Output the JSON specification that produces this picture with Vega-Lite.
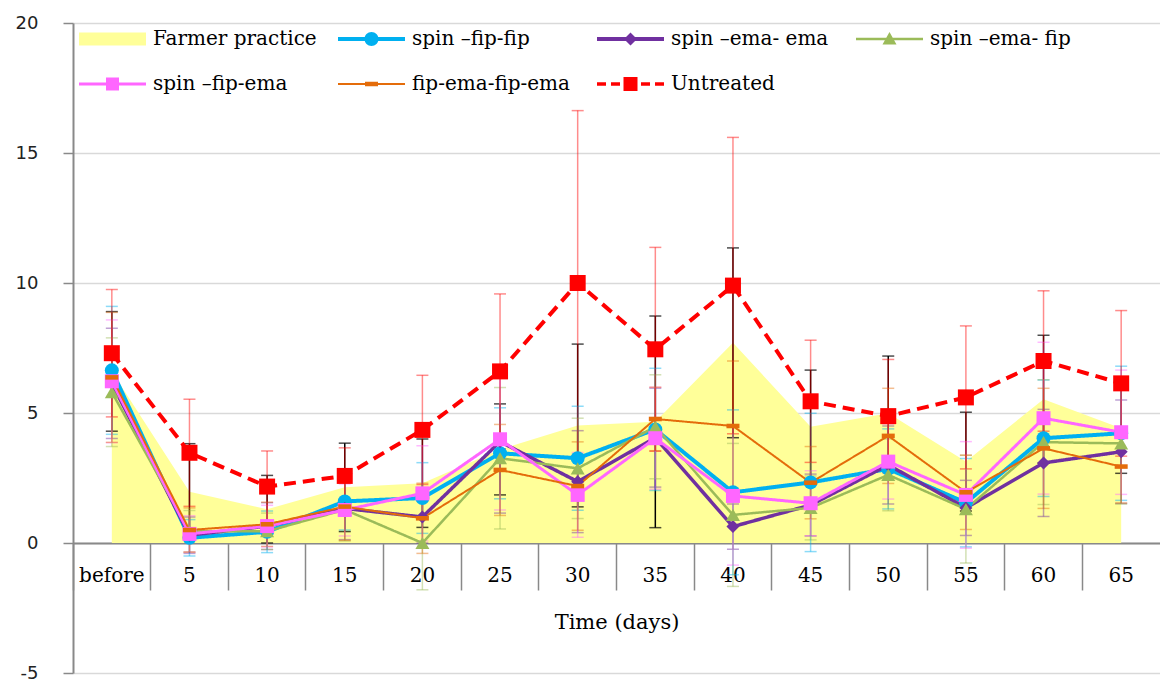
{
  "$schema": "https://vega.github.io/schema/vega-lite/v6.json",
  "width": 1087,
  "height": 650,
  "autosize": {"type": "none"},
  "padding": {"left": 73, "top": 23, "right": 0, "bottom": 9},
  "background": "white",
  "config": {"view": {"stroke": null}},
  "data": {"values": [
    {"t":"before","s":"Farmer practice","v":6.6,"e":2.3},
    {"t":"5","s":"Farmer practice","v":1.97,"e":1.85},
    {"t":"10","s":"Farmer practice","v":1.3,"e":1.3},
    {"t":"15","s":"Farmer practice","v":2.14,"e":1.7},
    {"t":"20","s":"Farmer practice","v":2.3,"e":1.7},
    {"t":"25","s":"Farmer practice","v":3.6,"e":1.75},
    {"t":"30","s":"Farmer practice","v":4.52,"e":3.13},
    {"t":"35","s":"Farmer practice","v":4.66,"e":4.07},
    {"t":"40","s":"Farmer practice","v":7.7,"e":3.65},
    {"t":"45","s":"Farmer practice","v":4.47,"e":2.18},
    {"t":"50","s":"Farmer practice","v":4.99,"e":2.2},
    {"t":"55","s":"Farmer practice","v":3.13,"e":1.9},
    {"t":"60","s":"Farmer practice","v":5.53,"e":2.46},
    {"t":"65","s":"Farmer practice","v":4.41,"e":1.73},

    {"t":"before","s":"spin –fip-fip","v":6.64,"e":2.46},
    {"t":"5","s":"spin –fip-fip","v":0.2,"e":0.7},
    {"t":"10","s":"spin –fip-fip","v":0.43,"e":0.8},
    {"t":"15","s":"spin –fip-fip","v":1.6,"e":1.1},
    {"t":"20","s":"spin –fip-fip","v":1.73,"e":1.36},
    {"t":"25","s":"spin –fip-fip","v":3.45,"e":1.75},
    {"t":"30","s":"spin –fip-fip","v":3.26,"e":2.0},
    {"t":"35","s":"spin –fip-fip","v":4.37,"e":2.35},
    {"t":"40","s":"spin –fip-fip","v":1.95,"e":3.17},
    {"t":"45","s":"spin –fip-fip","v":2.33,"e":2.66},
    {"t":"50","s":"spin –fip-fip","v":2.85,"e":1.54},
    {"t":"55","s":"spin –fip-fip","v":1.55,"e":1.7},
    {"t":"60","s":"spin –fip-fip","v":4.03,"e":2.24},
    {"t":"65","s":"spin –fip-fip","v":4.22,"e":2.58},

    {"t":"before","s":"spin –ema- ema","v":6.14,"e":2.12},
    {"t":"5","s":"spin –ema- ema","v":0.3,"e":0.7},
    {"t":"10","s":"spin –ema- ema","v":0.65,"e":0.9},
    {"t":"15","s":"spin –ema- ema","v":1.33,"e":1.2},
    {"t":"20","s":"spin –ema- ema","v":1.0,"e":1.0},
    {"t":"25","s":"spin –ema- ema","v":3.9,"e":2.75},
    {"t":"30","s":"spin –ema- ema","v":2.36,"e":1.96},
    {"t":"35","s":"spin –ema- ema","v":4.05,"e":1.9},
    {"t":"40","s":"spin –ema- ema","v":0.63,"e":0.87},
    {"t":"45","s":"spin –ema- ema","v":1.46,"e":1.19},
    {"t":"50","s":"spin –ema- ema","v":3.0,"e":1.5},
    {"t":"55","s":"spin –ema- ema","v":1.35,"e":1.06},
    {"t":"60","s":"spin –ema- ema","v":3.08,"e":2.06},
    {"t":"65","s":"spin –ema- ema","v":3.51,"e":1.99},

    {"t":"before","s":"spin –ema- fip","v":5.8,"e":2.09},
    {"t":"5","s":"spin –ema- fip","v":0.45,"e":0.8},
    {"t":"10","s":"spin –ema- fip","v":0.45,"e":0.7},
    {"t":"15","s":"spin –ema- fip","v":1.28,"e":1.2},
    {"t":"20","s":"spin –ema- fip","v":0.0,"e":1.8},
    {"t":"25","s":"spin –ema- fip","v":3.26,"e":2.72},
    {"t":"30","s":"spin –ema- fip","v":2.87,"e":1.93},
    {"t":"35","s":"spin –ema- fip","v":4.47,"e":2.0},
    {"t":"40","s":"spin –ema- fip","v":1.08,"e":2.75},
    {"t":"45","s":"spin –ema- fip","v":1.35,"e":1.23},
    {"t":"50","s":"spin –ema- fip","v":2.62,"e":1.38},
    {"t":"55","s":"spin –ema- fip","v":1.3,"e":2.07},
    {"t":"60","s":"spin –ema- fip","v":3.88,"e":2.4},
    {"t":"65","s":"spin –ema- fip","v":3.83,"e":2.33},

    {"t":"before","s":"spin –fip-ema","v":6.22,"e":2.36},
    {"t":"5","s":"spin –fip-ema","v":0.35,"e":0.7},
    {"t":"10","s":"spin –fip-ema","v":0.65,"e":0.8},
    {"t":"15","s":"spin –fip-ema","v":1.27,"e":1.0},
    {"t":"20","s":"spin –fip-ema","v":1.91,"e":1.83},
    {"t":"25","s":"spin –fip-ema","v":3.99,"e":2.72},
    {"t":"30","s":"spin –fip-ema","v":1.85,"e":1.63},
    {"t":"35","s":"spin –fip-ema","v":4.03,"e":1.96},
    {"t":"40","s":"spin –fip-ema","v":1.81,"e":2.66},
    {"t":"45","s":"spin –fip-ema","v":1.53,"e":1.25},
    {"t":"50","s":"spin –fip-ema","v":3.13,"e":1.44},
    {"t":"55","s":"spin –fip-ema","v":1.85,"e":2.05},
    {"t":"60","s":"spin –fip-ema","v":4.8,"e":2.92},
    {"t":"65","s":"spin –fip-ema","v":4.26,"e":2.39},

    {"t":"before","s":"fip-ema-fip-ema","v":6.37,"e":2.5},
    {"t":"5","s":"fip-ema-fip-ema","v":0.5,"e":0.85},
    {"t":"10","s":"fip-ema-fip-ema","v":0.72,"e":0.85},
    {"t":"15","s":"fip-ema-fip-ema","v":1.4,"e":1.3},
    {"t":"20","s":"fip-ema-fip-ema","v":0.95,"e":1.35},
    {"t":"25","s":"fip-ema-fip-ema","v":2.81,"e":1.75},
    {"t":"30","s":"fip-ema-fip-ema","v":2.19,"e":1.7},
    {"t":"35","s":"fip-ema-fip-ema","v":4.77,"e":1.22},
    {"t":"40","s":"fip-ema-fip-ema","v":4.5,"e":2.5},
    {"t":"45","s":"fip-ema-fip-ema","v":2.32,"e":1.39},
    {"t":"50","s":"fip-ema-fip-ema","v":4.12,"e":1.83},
    {"t":"55","s":"fip-ema-fip-ema","v":1.95,"e":1.43},
    {"t":"60","s":"fip-ema-fip-ema","v":3.64,"e":2.31},
    {"t":"65","s":"fip-ema-fip-ema","v":2.94,"e":1.4},

    {"t":"before","s":"Untreated","v":7.3,"e":2.45},
    {"t":"5","s":"Untreated","v":3.47,"e":2.06},
    {"t":"10","s":"Untreated","v":2.17,"e":1.37},
    {"t":"15","s":"Untreated","v":2.58,"e":1.08},
    {"t":"20","s":"Untreated","v":4.35,"e":2.1},
    {"t":"25","s":"Untreated","v":6.6,"e":2.98},
    {"t":"30","s":"Untreated","v":10.0,"e":6.63},
    {"t":"35","s":"Untreated","v":7.45,"e":3.92},
    {"t":"40","s":"Untreated","v":9.9,"e":5.7},
    {"t":"45","s":"Untreated","v":5.45,"e":2.35},
    {"t":"50","s":"Untreated","v":4.88,"e":2.18},
    {"t":"55","s":"Untreated","v":5.6,"e":2.75},
    {"t":"60","s":"Untreated","v":7.0,"e":2.7},
    {"t":"65","s":"Untreated","v":6.14,"e":2.8}
  ]},
  "encoding": {
    "x": {
      "field": "t", "type": "ordinal",
      "sort": ["before","5","10","15","20","25","30","35","40","45","50","55","60","65"],
      "scale": {"type": "band", "paddingInner": 0, "paddingOuter": 0,
        "domain": ["before","5","10","15","20","25","30","35","40","45","50","55","60","65"]},
      "axis": {
        "title": "Time (days)", "orient": "bottom", "offset": -130,
        "labelAngle": 0, "bandPosition": 0, "grid": false,
        "domainColor": "#898989", "domainWidth": 2,
        "tickColor": "#898989", "tickWidth": 1.5, "tickSize": 47,
        "labelFont": "DejaVu Serif", "labelFontSize": 20, "labelColor": "#000",
        "labelPadding": -25, "labelBaseline": "top",
        "titleFont": "DejaVu Serif", "titleFontSize": 21, "titleFontWeight": "normal",
        "titleColor": "#000", "titlePadding": 21
      }
    }
  },
  "layer": [
    {
      "transform": [{"filter": "datum.s === 'Farmer practice'"}],
      "mark": {"type": "area", "color": "#FFFF99", "interpolate": "linear"},
      "encoding": {
        "y": {"field": "v", "type": "quantitative",
          "scale": {"domain": [-5, 20], "nice": false, "zero": false},
          "axis": {
            "title": null, "values": [-5, 0, 5, 10, 15, 20],
            "labelExpr": "'' + datum.value",
            "grid": true, "gridColor": "#d9d9d9", "gridWidth": 1.5,
            "domainColor": "#898989", "domainWidth": 2,
            "tickColor": "#898989", "tickWidth": 1.5, "tickSize": 10,
            "labelFont": "DejaVu Sans", "labelFontSize": 18, "labelColor": "#222",
            "labelPadding": 25
          }
        }
      }
    },
    {
      "transform": [{"filter": "datum.s === 'Farmer practice'"}],
      "mark": {"type": "errorbar", "ticks": true, "size": 12, "thickness": 1.5, "color": "black"},
      "encoding": {
        "y": {"field": "v", "type": "quantitative"},
        "yError": {"field": "e"}
      }
    },
    {
      "transform": [{"filter": "datum.s !== 'Farmer practice'"}],
      "mark": {"type": "errorbar", "ticks": true, "size": 12, "thickness": 1.5, "opacity": 0.45},
      "encoding": {
        "y": {"field": "v", "type": "quantitative"},
        "yError": {"field": "e"},
        "color": {"field": "s", "type": "nominal"}
      }
    },
    {
      "transform": [{"filter": "datum.s !== 'Farmer practice'"}],
      "mark": {"type": "line", "strokeCap": "butt"},
      "encoding": {
        "y": {"field": "v", "type": "quantitative"},
        "color": {"field": "s", "type": "nominal"},
        "strokeWidth": {"field": "s", "type": "nominal", "legend": null,
          "scale": {"type": "ordinal", "domain": ["spin –fip-fip","spin –ema- ema","spin –ema- fip","spin –fip-ema","fip-ema-fip-ema","Untreated"],
                    "range": [4, 3.5, 2.5, 3, 2, 4]}},
        "strokeDash": {"field": "s", "type": "nominal", "legend": null,
          "scale": {"domain": ["spin –fip-fip","spin –ema- ema","spin –ema- fip","spin –fip-ema","fip-ema-fip-ema","Untreated"],
                    "range": [[1, 0], [1, 0], [1, 0], [1, 0], [1, 0], [12, 7]]}}
      }
    },
    {
      "transform": [{"filter": "datum.s !== 'Farmer practice'"}],
      "mark": {"type": "point", "filled": true, "opacity": 1},
      "encoding": {
        "y": {"field": "v", "type": "quantitative"},
        "shape": {"field": "s", "type": "nominal", "legend": null,
          "scale": {"domain": ["spin –fip-fip","spin –ema- ema","spin –ema- fip","spin –fip-ema","fip-ema-fip-ema","Untreated"],
                    "range": ["circle", "diamond", "triangle-up", "square", "M-1,-0.35H1V0.35H-1Z", "square"]}},
        "size": {"field": "s", "type": "nominal", "legend": null,
          "scale": {"type": "ordinal", "domain": ["spin –fip-fip","spin –ema- ema","spin –ema- fip","spin –fip-ema","fip-ema-fip-ema","Untreated"],
                    "range": [196, 169, 196, 196, 169, 256]}},
        "color": {
          "field": "s", "type": "nominal",
          "scale": {
            "domain": ["Farmer practice","spin –fip-fip","spin –ema- ema","spin –ema- fip","spin –fip-ema","fip-ema-fip-ema","Untreated"],
            "range": ["#FFFF99","#00B0F0","#7030A0","#9BBB59","#FF66FF","#E46C0A","#FF0000"]
          },
          "legend": {
            "title": null, "orient": "top-left", "offset": 6, "padding": 0,
            "direction": "horizontal", "gridAlign": "all",
            "columns": 4, "columnPadding": 21, "rowPadding": 25,
            "symbolSize": 400, "symbolStrokeWidth": 0, "symbolOffset": 0,
            "labelOffset": 54, "labelFont": "DejaVu Serif", "labelFontSize": 20,
            "labelColor": "#000", "labelLimit": 400,
            "encoding": {
              "symbols": {
                "shape": {"value": {"expr": "['M-1,-0.65H5.7V0.65H-1Z','M-1,-0.2H5.7V0.2H-1ZM1.65,0A0.7,0.7 0 1,1 3.05,0A0.7,0.7 0 1,1 1.65,0Z','M-1,-0.2H5.7V0.2H-1ZM2.35,-0.65L3.0,0L2.35,0.65L1.7,0Z','M-1,-0.13H5.7V0.13H-1ZM2.35,-0.7L3.05,0.55L1.65,0.55Z','M-1,-0.15H5.7V0.15H-1ZM1.7,-0.65H3.0V0.65H1.7Z','M-1,-0.1H5.7V0.1H-1ZM1.7,-0.22H3.0V0.22H1.7Z','M-1,-0.17H-0.1V0.17H-1ZM0.4,-0.17H1.3V0.17H0.4ZM3.4,-0.17H4.3V0.17H3.4ZM4.8,-0.17H5.7V0.17H4.8ZM1.65,-0.7H3.05V0.7H1.65Z'][datum.index]"}},
                "fill": {"value": {"expr": "scale('color', datum.value)"}},
                "opacity": {"value": 1},
                "fillOpacity": {"value": 1}
              }
            }
          }
        }
      }
    }
  ]
}
